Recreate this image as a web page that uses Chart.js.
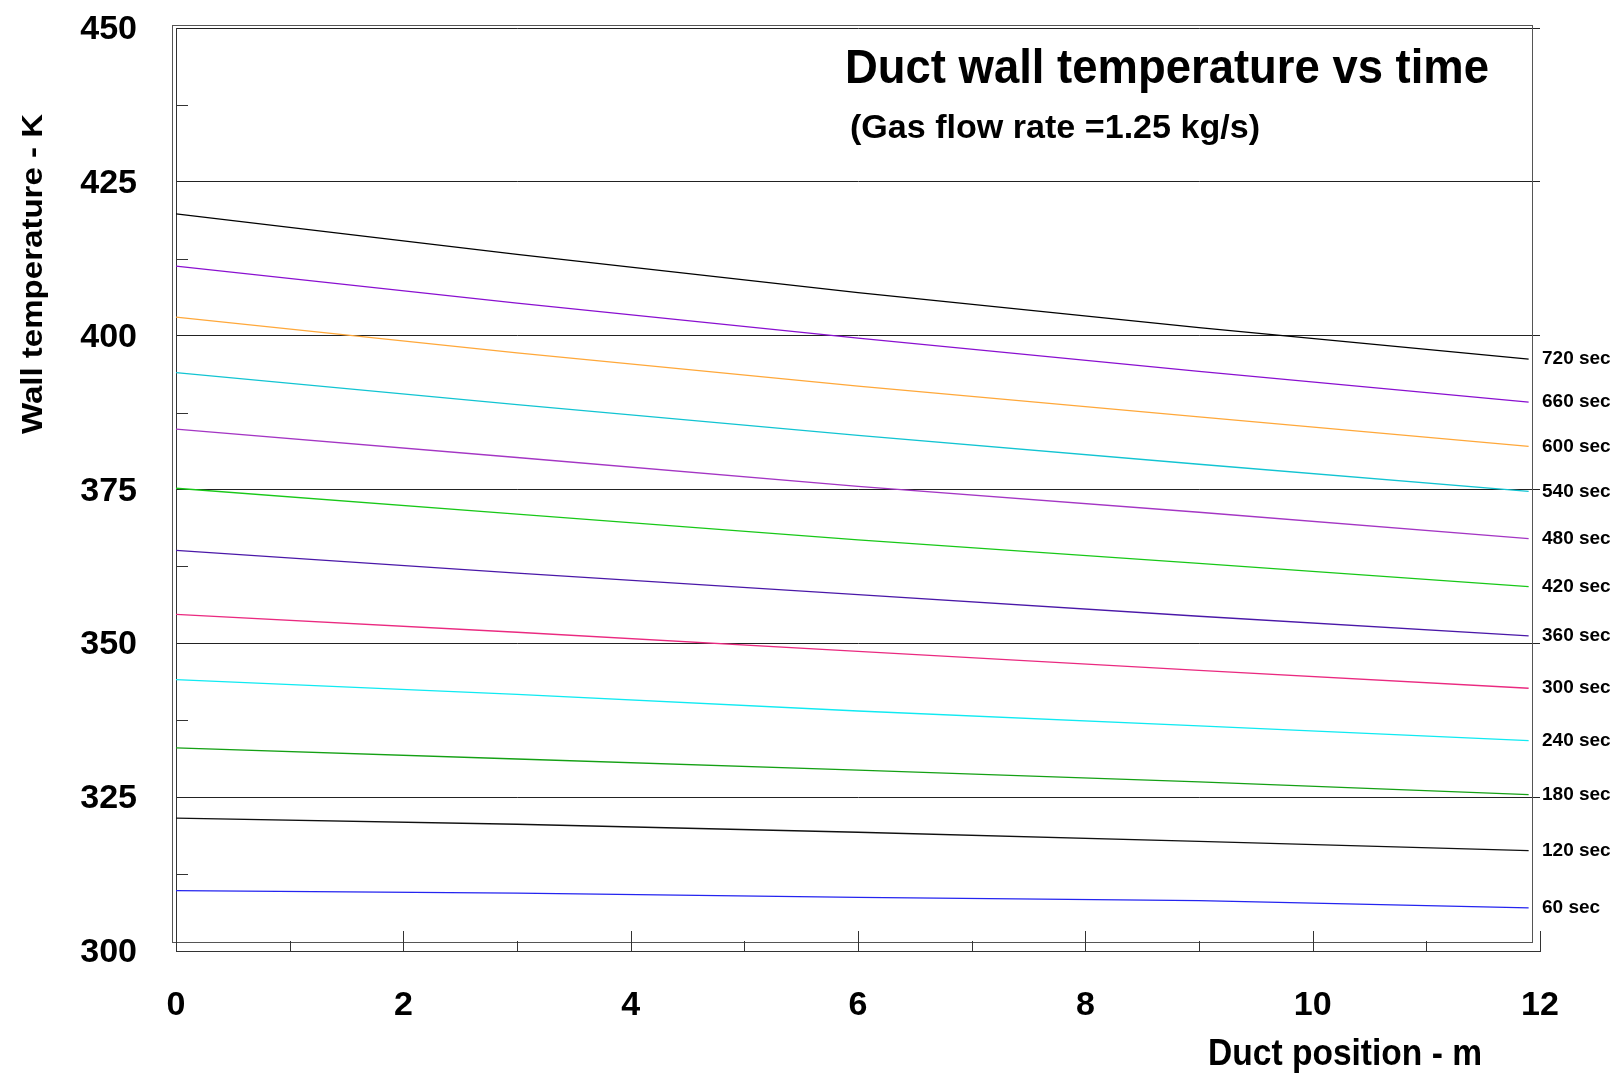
<!DOCTYPE html>
<html>
<head>
<meta charset="utf-8">
<title>Duct wall temperature vs time</title>
<script src="https://cdn.jsdelivr.net/npm/chart.js@4/dist/chart.umd.min.js"></script>
<style>
  body { margin: 0; background: #fff; }
  #wrap { width: 1621px; height: 1074px; }
</style>
</head>
<body>
<div id="wrap"><canvas id="chart" width="1621" height="1074"></canvas></div>
<script>
// duct position (m) where the wall temperature was sampled
let position = [0, 3, 6, 9, 11.9];

let times = ["720 sec", "660 sec", "600 sec", "540 sec", "480 sec", "420 sec",
             "360 sec", "300 sec", "240 sec", "180 sec", "120 sec", "60 sec"];

// wall temperature (K) for each time
let t720 = [419.8, 413.2, 407.0, 401.3, 396.2];
let t660 = [411.3, 405.3, 399.6, 394.2, 389.2];
let t600 = [403.0, 397.2, 391.8, 386.8, 382.0];
let t540 = [394.0, 388.8, 383.8, 379.1, 374.7];
let t480 = [384.8, 380.2, 375.5, 371.3, 367.0];
let t420 = [375.2, 371.0, 366.8, 363.0, 359.2];
let t360 = [365.1, 361.4, 357.9, 354.4, 351.2];
let t300 = [354.7, 351.8, 348.7, 345.6, 342.7];
let t240 = [344.1, 341.7, 339.0, 336.6, 334.2];
let t180 = [333.0, 331.2, 329.4, 327.5, 325.4];
let t120 = [321.6, 320.6, 319.3, 317.8, 316.3];
let t60  = [309.8, 309.4, 308.7, 308.2, 307.0];

let series = [t720, t660, t600, t540, t480, t420, t360, t300, t240, t180, t120, t60];

let yTicks = [300, 325, 350, 375, 400, 425, 450];
let xTicks = [0, 2, 4, 6, 8, 10, 12];

let colores = ['#000000', '#8a10d0', '#ffa83a', '#12c4d2', '#a436c4', '#18c818',
               '#4a18a8', '#ea2a80', '#10eaf2', '#14a014', '#101010', '#2424f0'];

let family = '"Liberation Sans", Arial, Helvetica, sans-serif';

let datasets = series.map(function (vals, i) {
  return {
    label: times[i],
    data: position.map(function (p, j) { return { x: p, y: vals[j] }; }),
    borderColor: colores[i],
    backgroundColor: 'transparent',
    borderWidth: 1.3,
    pointRadius: 0,
    tension: 0,
    fill: false
  };
});

// bold text squeezed/stretched to a given width
function fitText(ctx, text, x, y, width, size, angle) {
  ctx.save();
  ctx.font = 'bold ' + size + 'px ' + family;
  let w = ctx.measureText(text).width;
  ctx.translate(x, y);
  if (angle) ctx.rotate(angle);
  ctx.scale(width / w, 1);
  ctx.textAlign = 'left';
  ctx.textBaseline = 'alphabetic';
  ctx.fillStyle = '#000';
  ctx.fillText(text, 0, 0);
  ctx.restore();
}

let extras = {
  id: 'extras',
  afterDraw: function (chart) {
    let ctx = chart.ctx;
    let a = chart.chartArea;
    let xs = chart.scales.x;
    let ys = chart.scales.y;

    ctx.save();
    // outer frame
    ctx.strokeStyle = '#555';
    ctx.lineWidth = 1;
    ctx.strokeRect(a.left - 3.5, a.top - 2.5, a.right - a.left - 4, a.bottom - a.top - 6);

    // x ticks pointing up from the axis
    ctx.strokeStyle = '#333';
    ctx.beginPath();
    for (let v = 0; v <= 12; v++) {
      let px = Math.round(xs.getPixelForValue(v)) + 0.5;
      let len = v % 2 === 0 ? 21 : 11;
      ctx.moveTo(px, a.bottom + 1);
      ctx.lineTo(px, a.bottom + 1 - len);
    }
    // minor y ticks
    for (let v = 312.5; v < 450; v += 25) {
      let py = Math.round(ys.getPixelForValue(v)) + 0.5;
      ctx.moveTo(a.left, py);
      ctx.lineTo(a.left + 12, py);
    }
    ctx.stroke();

    // tick labels
    ctx.fillStyle = '#000';
    ctx.font = 'bold 34px ' + family;
    ctx.textBaseline = 'alphabetic';
    ctx.textAlign = 'right';
    yTicks.forEach(function (v) {
      ctx.fillText(String(v), a.left - 39, ys.getPixelForValue(v) + 11);
    });
    ctx.textAlign = 'center';
    xTicks.forEach(function (v) {
      ctx.fillText(String(v), xs.getPixelForValue(v), 1015);
    });

    // time labels at the end of each curve
    ctx.font = 'bold 19px ' + family;
    ctx.textAlign = 'left';
    ctx.textBaseline = 'middle';
    series.forEach(function (vals, i) {
      let py = ys.getPixelForValue(vals[vals.length - 1]);
      ctx.fillText(times[i], a.right + 2, py);
    });
    ctx.restore();

    fitText(ctx, 'Duct wall temperature vs time', 845, 83, 644, 48);
    fitText(ctx, '(Gas flow rate =1.25 kg/s)', 850, 138, 410, 34);
    fitText(ctx, 'Duct position - m', 1208, 1065, 274, 36);
    fitText(ctx, 'Wall temperature - K', 42, 434, 320, 30, -Math.PI / 2);
  }
};

let ctx = document.getElementById('chart').getContext('2d');
let chart = new Chart(ctx, {
  type: 'line',
  data: { datasets: datasets },
  options: {
    responsive: false,
    animation: false,
    layout: { padding: { left: 176, top: 28, right: 81, bottom: 123 } },
    plugins: { legend: { display: false }, tooltip: { enabled: false } },
    scales: {
      x: {
        type: 'linear',
        min: 0,
        max: 12,
        afterFit: function (s) { s.height = 0; },
        afterBuildTicks: function (s) { s.ticks = xTicks.map(function (v) { return { value: v }; }); },
        ticks: { display: false },
        grid: { drawOnChartArea: false, drawTicks: false },
        border: { color: '#333', width: 1 }
      },
      y: {
        type: 'linear',
        min: 300,
        max: 450,
        afterFit: function (s) { s.width = 0; },
        afterBuildTicks: function (s) { s.ticks = yTicks.map(function (v) { return { value: v }; }); },
        ticks: { display: false },
        grid: { color: '#222', lineWidth: 1, drawTicks: false },
        border: { color: '#333', width: 1 }
      }
    }
  },
  plugins: [extras]
});
</script>
</body>
</html>
